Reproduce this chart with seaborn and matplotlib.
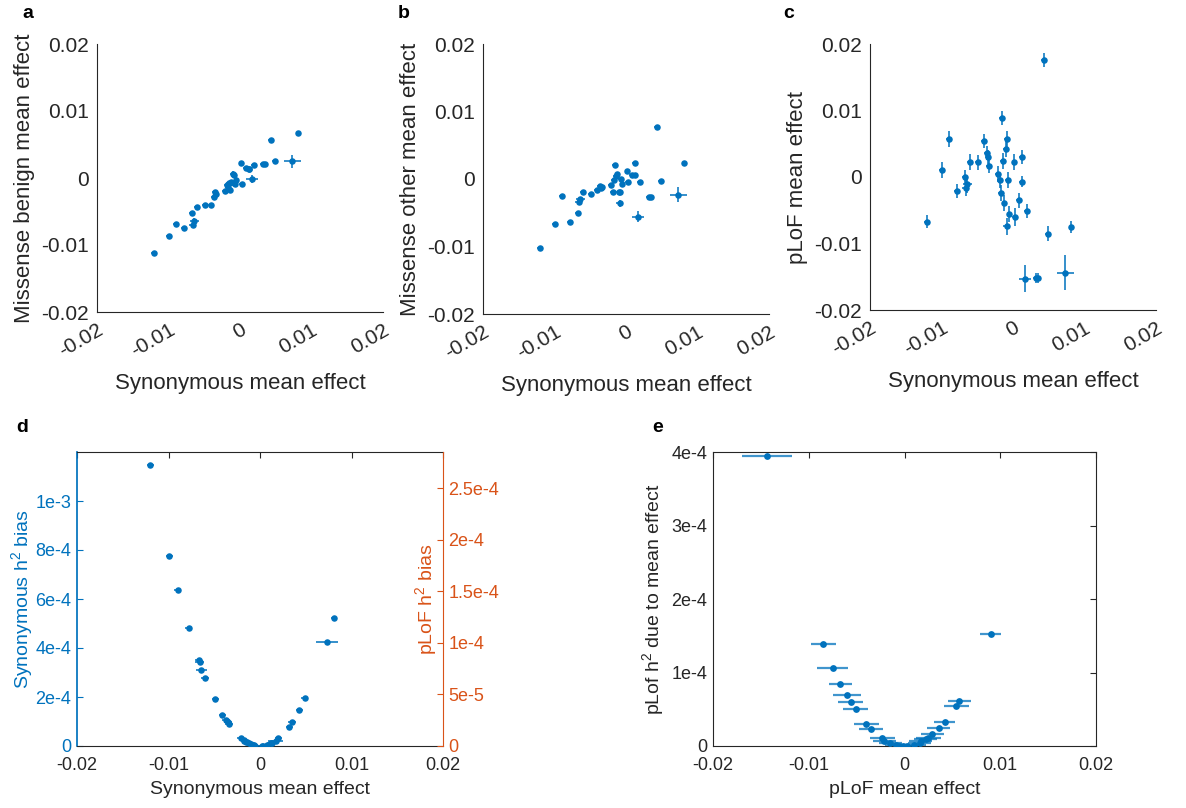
import numpy as np
import pandas as pd
import matplotlib
matplotlib.use("Agg")
import matplotlib.pyplot as plt
import seaborn as sns

# ==========================
# Data
# ==========================
syn = [-0.0120, -0.0099, -0.0090, -0.0078, -0.0067, -0.0066, -0.0064, -0.0060,
       -0.0049, -0.0041, -0.0037, -0.0035, -0.0034, -0.0021, -0.0018, -0.0017,
       -0.0015, -0.0014, -0.0012, -0.0010, -0.0009, -0.0008, -0.0007, -0.0005,
       0.0002, 0.0003, 0.0008, 0.0012, 0.0013, 0.0017, 0.0020, 0.0032,
       0.0035, 0.0043, 0.0049, 0.0073, 0.0081]
syn_err = [0.0004, 0.0004, 0.0004, 0.0004, 0.0004, 0.0005, 0.0006, 0.0004,
           0.0004, 0.0004, 0.0004, 0.0004, 0.0004, 0.0004, 0.0004, 0.0004,
           0.0004, 0.0004, 0.0004, 0.0004, 0.0005, 0.0004, 0.0004, 0.0004,
           0.0004, 0.0004, 0.0004, 0.0004, 0.0004, 0.0008, 0.0004, 0.0004,
           0.0004, 0.0004, 0.0004, 0.0012, 0.0003]

benign = [-0.0112, -0.0087, -0.0069, -0.0075, -0.0052, -0.0070, -0.0064, -0.0043,
          -0.0041, -0.0041, -0.0028, -0.0021, -0.0024, -0.0019, -0.0010, -0.0013,
          -0.0008, -0.0018, -0.0006, 0.0006, -0.0007, 0.0004, -0.0009, -0.0003,
          0.0023, -0.0009, 0.0015, 0.0014, 0.0013, -0.0002, 0.0019, 0.0021,
          0.0021, 0.0057, 0.0026, 0.0025, 0.0067]
benign_err = [0.0003, 0.0003, 0.0003, 0.0003, 0.0003, 0.0003, 0.0005, 0.0003,
              0.0003, 0.0003, 0.0003, 0.0003, 0.0003, 0.0003, 0.0003, 0.0003,
              0.0003, 0.0004, 0.0003, 0.0004, 0.0003, 0.0003, 0.0003, 0.0003,
              0.0003, 0.0003, 0.0003, 0.0003, 0.0003, 0.0006, 0.0003, 0.0003,
              0.0003, 0.0003, 0.0003, 0.0010, 0.0002]

other = [-0.0102, -0.0067, -0.0025, -0.0064, -0.0050, -0.0034, -0.0029, -0.0019,
         -0.0022, -0.0016, -0.0010, -0.0014, -0.0012, -0.0009, -0.0019, -0.0002,
         0.0021, 0.0004, 0.0007, -0.0019, -0.0036, -0.0019, 0.0000, -0.0008,
         0.0012, -0.0005, 0.0006, 0.0006, 0.0024, -0.0056, -0.0005, -0.0027,
         -0.0027, 0.0077, -0.0003, -0.0023, 0.0023]
other_err = [0.0003, 0.0003, 0.0003, 0.0003, 0.0003, 0.0004, 0.0003, 0.0003,
             0.0003, 0.0003, 0.0003, 0.0003, 0.0003, 0.0003, 0.0003, 0.0003,
             0.0003, 0.0003, 0.0003, 0.0003, 0.0005, 0.0003, 0.0003, 0.0003,
             0.0003, 0.0003, 0.0003, 0.0003, 0.0003, 0.0008, 0.0003, 0.0003,
             0.0003, 0.0003, 0.0003, 0.0011, 0.0002]

plof = [-0.0067, 0.0010, 0.0057, -0.0021, 0.0000, -0.0016, -0.0011, 0.0022,
        0.0022, 0.0054, 0.0036, 0.0030, 0.0017, 0.0004, -0.0005, -0.0024,
        0.0089, 0.0024, -0.0039, 0.0042, -0.0074, 0.0057, -0.0005, -0.0056,
        0.0022, -0.0060, -0.0035, 0.0030, -0.0007, -0.0153, -0.0051, -0.0152,
        -0.0152, 0.0176, -0.0085, -0.0144, -0.0075]
plof_err = [0.0010, 0.0012, 0.0012, 0.0011, 0.0011, 0.0012, 0.0013, 0.0012,
            0.0011, 0.0011, 0.0010, 0.0010, 0.0011, 0.0012, 0.0011, 0.0012,
            0.0011, 0.0012, 0.0012, 0.0012, 0.0013, 0.0012, 0.0012, 0.0012,
            0.0012, 0.0013, 0.0011, 0.0010, 0.0008, 0.0020, 0.0010, 0.0008,
            0.0008, 0.0011, 0.0011, 0.0026, 0.0009]

syn_bias = [1.146e-3, 7.76e-4, 6.38e-4, 4.83e-4, 3.50e-4, 3.42e-4, 3.11e-4, 2.78e-4,
            1.90e-4, 1.28e-4, 1.05e-4, 9.6e-5, 9.0e-5, 3.1e-5, 2.5e-5, 2.2e-5,
            1.7e-5, 1.5e-5, 1.1e-5, 8e-6, 6e-6, 5e-6, 4e-6, 2e-6,
            0.3e-6, 0.7e-6, 5e-6, 1.1e-5, 1.3e-5, 2.2e-5, 3.1e-5, 7.9e-5,
            9.6e-5, 1.45e-4, 1.94e-4, 4.24e-4, 5.22e-4]

plof_mean = [-0.0144, -0.0085, -0.0075, -0.0067, -0.0060, -0.0056, -0.0051, -0.0040,
             -0.0035, -0.0023, -0.0021, -0.0015, -0.0009, -0.0006, -0.0002, 0.0003,
             0.0010, 0.0016, 0.0017, 0.0022, 0.0025, 0.0029, 0.0036, 0.0042,
             0.0054, 0.0057, 0.0090]
plof_mean_err = [0.0026, 0.0013, 0.0016, 0.0012, 0.0015, 0.0013, 0.0013, 0.0013,
                 0.0013, 0.0013, 0.0012, 0.0012, 0.0011, 0.0011, 0.0011, 0.0011,
                 0.0012, 0.0012, 0.0012, 0.0012, 0.0013, 0.0012, 0.0012, 0.0011,
                 0.0013, 0.0012, 0.0011]
plof_h2 = [3.95e-4, 1.385e-4, 1.066e-4, 8.5e-5, 6.9e-5, 6.0e-5, 5.1e-5, 2.96e-5,
           2.37e-5, 1.1e-5, 7e-6, 3.6e-6, 1.4e-6, 0.6e-6, 0.1e-6, 0.2e-6,
           2e-6, 4e-6, 7e-6, 9e-6, 1.05e-5, 1.6e-5, 2.4e-5, 3.3e-5,
           5.5e-5, 6.15e-5, 1.52e-4]

lim_ticks = [-0.02, -0.01, 0, 0.01, 0.02]
lim_labels = ["-0.02", "-0.01", "0", "0.01", "0.02"]

df_top = pd.DataFrame({"syn": syn, "syn_err": syn_err,
                       "benign": benign, "benign_err": benign_err,
                       "other": other, "other_err": other_err,
                       "plof": plof, "plof_err": plof_err,
                       "syn_bias": syn_bias})
df_e = pd.DataFrame({"plof": plof_mean, "plof_err": plof_mean_err, "h2": plof_h2})

# ==========================
# Style
# ==========================
sns.set_theme(style="white")
plt.rcParams["font.family"] = ["Liberation Sans", "DejaVu Sans"]
plt.rcParams["mathtext.default"] = "regular"
plt.rcParams["xtick.direction"] = "in"
plt.rcParams["ytick.direction"] = "in"

BLUE = "#0072BD"
ORANGE = "#D95319"
GREY = "#262626"
FS = 13        # bottom row
FS_TOP = 15    # top row

fig = plt.figure(figsize=(11.86, 8.08), dpi=100)
W, H = 1186, 808


def add_ax(left, top, right, bottom):
    return fig.add_axes([left / W, 1 - bottom / H, (right - left) / W, (bottom - top) / H])


def cross(ax, data, x, y, xerr, yerr, lw=1.3, alpha=0.85, s=22):
    ax.errorbar(data[x], data[y], xerr=data[xerr] if xerr else None,
                yerr=data[yerr] if yerr else None, fmt="none",
                ecolor=BLUE, elinewidth=lw, capsize=0, alpha=alpha, zorder=2)
    sns.scatterplot(data=data, x=x, y=y, ax=ax, color=BLUE, s=s,
                    linewidth=0, zorder=3, legend=False)


def style_top(ax, ylabel):
    ax.set_xlim(-0.02, 0.02)
    ax.set_ylim(-0.02, 0.02)
    ax.set_xticks(lim_ticks)
    ax.set_xticklabels(lim_labels, rotation=30, ha="right", rotation_mode="anchor")
    ax.set_yticks(lim_ticks)
    ax.set_yticklabels(lim_labels)
    ax.tick_params(colors=GREY, labelsize=FS_TOP, length=4, width=0.8, pad=6)
    for s in ["top", "right"]:
        ax.spines[s].set_visible(False)
    for s in ["left", "bottom"]:
        ax.spines[s].set_color(GREY)
        ax.spines[s].set_linewidth(0.8)
    ax.set_xlabel("Synonymous mean effect", fontsize=FS_TOP + 1, color=GREY, labelpad=9)
    ax.set_ylabel(ylabel, fontsize=FS_TOP + 1, color=GREY, labelpad=4)


# ==========================
# a, b, c
# ==========================
ax_a = add_ax(97, 44, 383, 312)
cross(ax_a, df_top, "syn", "benign", "syn_err", "benign_err")
style_top(ax_a, "Missense benign mean effect")

ax_b = add_ax(483, 44, 769, 314)
cross(ax_b, df_top, "syn", "other", "syn_err", "other_err")
style_top(ax_b, "Missense other mean effect")

ax_c = add_ax(870, 44, 1156, 310)
cross(ax_c, df_top, "syn", "plof", "syn_err", "plof_err")
style_top(ax_c, "pLoF mean effect")

# ==========================
# d
# ==========================
ax_d = add_ax(77, 452, 443, 746)
cross(ax_d, df_top, "syn", "syn_bias", "syn_err", None)
ax_d.set_xlim(-0.02, 0.02)
ax_d.set_ylim(0, 1.2e-3)
ax_d.set_xticks(lim_ticks)
ax_d.set_xticklabels(lim_labels)
ax_d.set_yticks([0, 2e-4, 4e-4, 6e-4, 8e-4, 1e-3])
ax_d.set_yticklabels(["0", "2e-4", "4e-4", "6e-4", "8e-4", "1e-3"])
ax_d.tick_params(axis="x", colors=GREY, labelsize=FS, length=4, width=0.8, top=True, pad=8)
ax_d.tick_params(axis="y", colors=BLUE, labelsize=FS, length=4, width=0.8, pad=4)
ax_d.set_xlabel("Synonymous mean effect", fontsize=FS + 1, color=GREY, labelpad=5)
ax_d.set_ylabel("Synonymous h$^2$ bias", fontsize=FS + 1, color=BLUE, labelpad=0)
for s in ["top", "bottom"]:
    ax_d.spines[s].set_color(GREY)
    ax_d.spines[s].set_linewidth(0.8)
ax_d.spines["left"].set_color(BLUE)
ax_d.spines["right"].set_visible(False)

ax_d2 = ax_d.twinx()
ax_d2.set_ylim(0, 2.85e-4)
ax_d2.set_yticks([0, 5e-5, 1e-4, 1.5e-4, 2e-4, 2.5e-4])
ax_d2.set_yticklabels(["0", "5e-5", "1e-4", "1.5e-4", "2e-4", "2.5e-4"])
ax_d2.tick_params(axis="y", colors=ORANGE, labelsize=FS, length=4, width=0.8, pad=4)
ax_d2.set_ylabel("pLoF h$^2$ bias", fontsize=FS + 1, color=ORANGE, labelpad=-62)
for s in ["top", "bottom", "left"]:
    ax_d2.spines[s].set_visible(False)
ax_d2.spines["right"].set_color(ORANGE)
ax_d2.spines["right"].set_linewidth(0.8)

# ==========================
# e
# ==========================
ax_e = add_ax(713, 452, 1096, 746)
cross(ax_e, df_e, "plof", "h2", "plof_err", None, lw=1.6, alpha=0.75, s=24)
ax_e.set_xlim(-0.02, 0.02)
ax_e.set_ylim(0, 4e-4)
ax_e.set_xticks(lim_ticks)
ax_e.set_xticklabels(lim_labels)
ax_e.set_yticks([0, 1e-4, 2e-4, 3e-4, 4e-4])
ax_e.set_yticklabels(["0", "1e-4", "2e-4", "3e-4", "4e-4"])
ax_e.tick_params(colors=GREY, labelsize=FS, length=4, width=0.8,
                 top=True, right=True, pad=8)
ax_e.tick_params(axis="y", pad=4)
ax_e.set_xlabel("pLoF mean effect", fontsize=FS + 1, color=GREY, labelpad=5)
ax_e.set_ylabel("pLof h$^2$ due to mean effect", fontsize=FS + 1, color=GREY, labelpad=4)
for s in ax_e.spines.values():
    s.set_color(GREY)
    s.set_linewidth(0.8)

# ==========================
# Panel letters
# ==========================
for letter, (px, py) in zip("abcde", [(22, 14), (398, 14), (783, 14), (16, 428), (652, 428)]):
    fig.text(px / W, 1 - py / H, letter, fontsize=14, fontweight="bold",
             ha="left", va="center", color="black")

fig.savefig("out.png", dpi=100)
